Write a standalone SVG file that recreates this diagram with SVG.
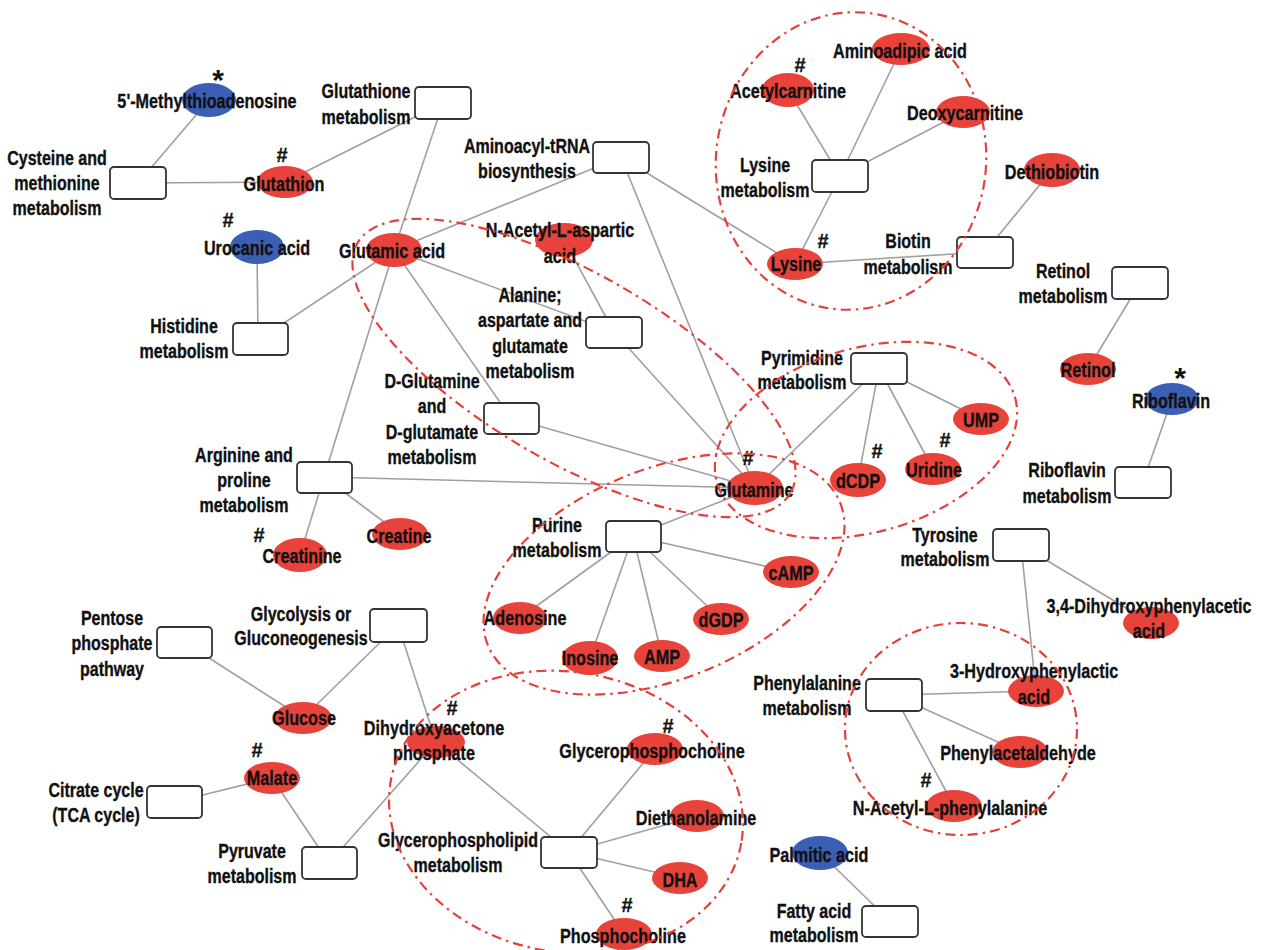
<svg xmlns="http://www.w3.org/2000/svg" width="1263" height="950" viewBox="0 0 1263 950">
<style>
.bg{fill:#fff}
.r{fill:#e8433b}
.b{fill:#3b5fb5}
.box{fill:#fff;stroke:#333;stroke-width:1.8}
.t{font-family:"Liberation Sans",Arial,sans-serif;font-weight:bold;font-size:20px;fill:#111;stroke:#111;stroke-width:0.35;text-anchor:middle}
.h{font-family:"Liberation Sans",Arial,sans-serif;font-weight:bold;font-size:20px;fill:#111;stroke:#111;stroke-width:0.3;text-anchor:middle}
.s{font-family:"Liberation Sans",Arial,sans-serif;font-weight:bold;font-size:30px;fill:#111;text-anchor:middle}
#connectors line{stroke:#a0a0a0;stroke-width:1.6}
.cl{fill:none;stroke:#e4413b;stroke-width:2.2;stroke-dasharray:10 5 2.5 5}
</style>
<rect class="bg" x="0" y="0" width="1263" height="950"/>
<g id="connectors">
<line x1="209" y1="100" x2="138" y2="183"/>
<line x1="138" y1="183" x2="285" y2="182"/>
<line x1="285" y1="182" x2="443" y2="103"/>
<line x1="443" y1="103" x2="394" y2="250"/>
<line x1="257" y1="247" x2="258" y2="339"/>
<line x1="260" y1="339" x2="394" y2="250"/>
<line x1="394" y1="250" x2="621" y2="157"/>
<line x1="394" y1="250" x2="614" y2="332"/>
<line x1="394" y1="250" x2="511" y2="418"/>
<line x1="394" y1="250" x2="324" y2="477"/>
<line x1="564" y1="240" x2="614" y2="332"/>
<line x1="621" y1="157" x2="755" y2="488"/>
<line x1="621" y1="157" x2="795" y2="264"/>
<line x1="614" y1="332" x2="755" y2="488"/>
<line x1="511" y1="418" x2="755" y2="488"/>
<line x1="324" y1="477" x2="755" y2="488"/>
<line x1="324" y1="477" x2="300" y2="555"/>
<line x1="324" y1="477" x2="400" y2="534"/>
<line x1="879" y1="368" x2="755" y2="488"/>
<line x1="633" y1="536" x2="755" y2="488"/>
<line x1="840" y1="176" x2="788" y2="90"/>
<line x1="840" y1="176" x2="901" y2="49"/>
<line x1="840" y1="176" x2="963" y2="112"/>
<line x1="840" y1="176" x2="795" y2="264"/>
<line x1="795" y1="264" x2="985" y2="252"/>
<line x1="985" y1="252" x2="1052" y2="170"/>
<line x1="1140" y1="283" x2="1088" y2="369"/>
<line x1="1172" y1="399" x2="1143" y2="482"/>
<line x1="879" y1="368" x2="858" y2="480"/>
<line x1="879" y1="368" x2="933" y2="469"/>
<line x1="879" y1="368" x2="981" y2="419"/>
<line x1="633" y1="536" x2="791" y2="572"/>
<line x1="633" y1="536" x2="721" y2="619"/>
<line x1="633" y1="536" x2="662" y2="656"/>
<line x1="633" y1="536" x2="590" y2="658"/>
<line x1="633" y1="536" x2="520" y2="618"/>
<line x1="1021" y1="545" x2="1151" y2="623"/>
<line x1="1021" y1="545" x2="1036" y2="691"/>
<line x1="894" y1="695" x2="1036" y2="691"/>
<line x1="894" y1="695" x2="1020" y2="752"/>
<line x1="894" y1="695" x2="954" y2="806"/>
<line x1="820" y1="853" x2="890" y2="921"/>
<line x1="184" y1="642" x2="303" y2="718"/>
<line x1="398" y1="625" x2="303" y2="718"/>
<line x1="398" y1="625" x2="436" y2="742"/>
<line x1="272" y1="778" x2="174" y2="802"/>
<line x1="272" y1="778" x2="329" y2="863"/>
<line x1="329" y1="863" x2="436" y2="742"/>
<line x1="436" y1="742" x2="569" y2="852"/>
<line x1="569" y1="852" x2="655" y2="749"/>
<line x1="569" y1="852" x2="697" y2="816"/>
<line x1="569" y1="852" x2="680" y2="878"/>
<line x1="569" y1="852" x2="624" y2="934"/>
</g>
<g id="n_glutathione_met"><rect class="box" x="415" y="87" width="56" height="32" rx="4"/><text class="t" transform="translate(366 98) scale(.8 1)">Glutathione<tspan x="0" dy="26">metabolism</tspan></text></g>
<g id="n_cysteine_met"><rect class="box" x="110" y="167" width="56" height="32" rx="4"/><text class="t" transform="translate(57 165) scale(.8 1)">Cysteine and<tspan x="0" dy="25">methionine</tspan><tspan x="0" dy="25">metabolism</tspan></text></g>
<g id="n_aminoacyl"><rect class="box" x="593" y="142" width="56" height="31" rx="4"/><text class="t" transform="translate(527 153) scale(.8 1)">Aminoacyl-tRNA<tspan x="0" dy="25">biosynthesis</tspan></text></g>
<g id="n_lysine_met"><rect class="box" x="812" y="160" width="56" height="32" rx="4"/><text class="t" transform="translate(765 172) scale(.8 1)">Lysine<tspan x="0" dy="25">metabolism</tspan></text></g>
<g id="n_biotin_met"><rect class="box" x="957" y="237" width="56" height="31" rx="4"/><text class="t" transform="translate(908 248) scale(.8 1)">Biotin<tspan x="0" dy="26">metabolism</tspan></text></g>
<g id="n_retinol_met"><rect class="box" x="1112" y="267" width="56" height="32" rx="4"/><text class="t" transform="translate(1063 278) scale(.8 1)">Retinol<tspan x="0" dy="25">metabolism</tspan></text></g>
<g id="n_riboflavin_met"><rect class="box" x="1115" y="467" width="56" height="31" rx="4"/><text class="t" transform="translate(1067 477) scale(.8 1)">Riboflavin<tspan x="0" dy="26">metabolism</tspan></text></g>
<g id="n_histidine_met"><rect class="box" x="233" y="323" width="55" height="32" rx="4"/><text class="t" transform="translate(184 333) scale(.8 1)">Histidine<tspan x="0" dy="25">metabolism</tspan></text></g>
<g id="n_alanine_met"><rect class="box" x="586" y="317" width="56" height="31" rx="4"/><text class="t" transform="translate(530 302) scale(.8 1)">Alanine;<tspan x="0" dy="25.3">aspartate and</tspan><tspan x="0" dy="25.3">glutamate</tspan><tspan x="0" dy="25.3">metabolism</tspan></text></g>
<g id="n_dglutamine_met"><rect class="box" x="484" y="403" width="55" height="31" rx="4"/><text class="t" transform="translate(432 388) scale(.8 1)">D-Glutamine<tspan x="0" dy="25.5">and</tspan><tspan x="0" dy="25.5">D-glutamate</tspan><tspan x="0" dy="25.5">metabolism</tspan></text></g>
<g id="n_arginine_met"><rect class="box" x="297" y="462" width="55" height="31" rx="4"/><text class="t" transform="translate(244 462) scale(.8 1)">Arginine and<tspan x="0" dy="25">proline</tspan><tspan x="0" dy="25">metabolism</tspan></text></g>
<g id="n_pyrimidine_met"><rect class="box" x="851" y="353" width="56" height="31" rx="4"/><text class="t" transform="translate(802 365) scale(.8 1)">Pyrimidine<tspan x="0" dy="24">metabolism</tspan></text></g>
<g id="n_purine_met"><rect class="box" x="606" y="521" width="55" height="31" rx="4"/><text class="t" transform="translate(557 532) scale(.8 1)">Purine<tspan x="0" dy="25">metabolism</tspan></text></g>
<g id="n_tyrosine_met"><rect class="box" x="993" y="529" width="56" height="32" rx="4"/><text class="t" transform="translate(945 542) scale(.8 1)">Tyrosine<tspan x="0" dy="24">metabolism</tspan></text></g>
<g id="n_phenylalanine_met"><rect class="box" x="866" y="679" width="56" height="32" rx="4"/><text class="t" transform="translate(807 690) scale(.8 1)">Phenylalanine<tspan x="0" dy="25">metabolism</tspan></text></g>
<g id="n_fatty_met"><rect class="box" x="862" y="906" width="56" height="31" rx="4"/><text class="t" transform="translate(814 918) scale(.8 1)">Fatty acid<tspan x="0" dy="24">metabolism</tspan></text></g>
<g id="n_pentose"><rect class="box" x="157" y="627" width="55" height="31" rx="4"/><text class="t" transform="translate(112 625) scale(.8 1)">Pentose<tspan x="0" dy="25.5">phosphate</tspan><tspan x="0" dy="25.5">pathway</tspan></text></g>
<g id="n_glycolysis"><rect class="box" x="370" y="609" width="57" height="33" rx="4"/><text class="t" transform="translate(301 621) scale(.8 1)">Glycolysis or<tspan x="0" dy="24">Gluconeogenesis</tspan></text></g>
<g id="n_citrate"><rect class="box" x="147" y="786" width="55" height="32" rx="4"/><text class="t" transform="translate(96 797) scale(.8 1)">Citrate cycle<tspan x="0" dy="25">(TCA cycle)</tspan></text></g>
<g id="n_pyruvate_met"><rect class="box" x="302" y="847" width="55" height="32" rx="4"/><text class="t" transform="translate(252 858) scale(.8 1)">Pyruvate<tspan x="0" dy="25">metabolism</tspan></text></g>
<g id="n_glycerophospholipid_met"><rect class="box" x="541" y="837" width="56" height="31" rx="4"/><text class="t" transform="translate(458 847) scale(.8 1)">Glycerophospholipid<tspan x="0" dy="25">metabolism</tspan></text></g>
<g id="n_mta"><ellipse class="b" cx="209" cy="100" rx="27" ry="17"/><text class="t" transform="translate(207 108) scale(.81 1)">5'-Methylthioadenosine</text><text class="s" x="218" y="90">*</text></g>
<g id="n_glutathion"><ellipse class="r" cx="285" cy="182" rx="28" ry="16"/><text class="t" transform="translate(284 191) scale(.81 1)">Glutathion</text><text class="h" x="282" y="162">#</text></g>
<g id="n_urocanic"><ellipse class="b" cx="257" cy="247" rx="27" ry="17"/><text class="t" transform="translate(257 255) scale(.81 1)">Urocanic acid</text><text class="h" x="228" y="227">#</text></g>
<g id="n_glutamic"><ellipse class="r" cx="394" cy="250" rx="28" ry="17"/><text class="t" transform="translate(392 258) scale(.81 1)">Glutamic acid</text></g>
<g id="n_naa"><ellipse class="r" cx="564" cy="240" rx="29" ry="17"/><text class="t" transform="translate(560 237) scale(.81 1)">N-Acetyl-L-aspartic<tspan x="0" dy="26">acid</tspan></text></g>
<g id="n_acetylcarnitine"><ellipse class="r" cx="788" cy="90" rx="26" ry="17"/><text class="t" transform="translate(788 98) scale(.81 1)">Acetylcarnitine</text><text class="h" x="800" y="72">#</text></g>
<g id="n_aminoadipic"><ellipse class="r" cx="901" cy="49" rx="29" ry="16"/><text class="t" transform="translate(900 58) scale(.81 1)">Aminoadipic acid</text></g>
<g id="n_deoxycarnitine"><ellipse class="r" cx="963" cy="112" rx="27" ry="16"/><text class="t" transform="translate(965 120) scale(.81 1)">Deoxycarnitine</text></g>
<g id="n_lysine"><ellipse class="r" cx="795" cy="264" rx="28" ry="16"/><text class="t" transform="translate(796 271) scale(.81 1)">Lysine</text><text class="h" x="823" y="248">#</text></g>
<g id="n_dethiobiotin"><ellipse class="r" cx="1052" cy="170" rx="28" ry="17"/><text class="t" transform="translate(1052 179) scale(.81 1)">Dethiobiotin</text></g>
<g id="n_retinol"><ellipse class="r" cx="1088" cy="369" rx="28" ry="16"/><text class="t" transform="translate(1088 377) scale(.81 1)">Retinol</text></g>
<g id="n_riboflavin"><ellipse class="b" cx="1172" cy="399" rx="27" ry="16"/><text class="t" transform="translate(1171 408) scale(.81 1)">Riboflavin</text><text class="s" x="1180" y="388">*</text></g>
<g id="n_ump"><ellipse class="r" cx="981" cy="419" rx="28" ry="16"/><text class="t" transform="translate(981 427) scale(.81 1)">UMP</text></g>
<g id="n_uridine"><ellipse class="r" cx="933" cy="469" rx="28" ry="16"/><text class="t" transform="translate(934 477) scale(.81 1)">Uridine</text><text class="h" x="945" y="447">#</text></g>
<g id="n_dcdp"><ellipse class="r" cx="858" cy="480" rx="28" ry="17"/><text class="t" transform="translate(858 488) scale(.81 1)">dCDP</text><text class="h" x="877" y="458">#</text></g>
<g id="n_glutamine"><ellipse class="r" cx="755" cy="488" rx="28" ry="17"/><text class="t" transform="translate(754 497) scale(.81 1)">Glutamine</text><text class="h" x="748" y="465">#</text></g>
<g id="n_creatinine"><ellipse class="r" cx="300" cy="555" rx="27" ry="17"/><text class="t" transform="translate(302 563) scale(.81 1)">Creatinine</text><text class="h" x="259" y="542">#</text></g>
<g id="n_creatine"><ellipse class="r" cx="400" cy="534" rx="28" ry="16"/><text class="t" transform="translate(399 543) scale(.81 1)">Creatine</text></g>
<g id="n_camp"><ellipse class="r" cx="791" cy="572" rx="28" ry="16"/><text class="t" transform="translate(791 580) scale(.81 1)">cAMP</text></g>
<g id="n_dgdp"><ellipse class="r" cx="721" cy="619" rx="28" ry="16"/><text class="t" transform="translate(721 627) scale(.81 1)">dGDP</text></g>
<g id="n_amp"><ellipse class="r" cx="662" cy="656" rx="28" ry="16"/><text class="t" transform="translate(662 664) scale(.81 1)">AMP</text></g>
<g id="n_inosine"><ellipse class="r" cx="590" cy="658" rx="28" ry="17"/><text class="t" transform="translate(590 665) scale(.81 1)">Inosine</text></g>
<g id="n_adenosine"><ellipse class="r" cx="520" cy="618" rx="27" ry="16"/><text class="t" transform="translate(525 625) scale(.81 1)">Adenosine</text></g>
<g id="n_glucose"><ellipse class="r" cx="303" cy="718" rx="29" ry="16"/><text class="t" transform="translate(304 725) scale(.81 1)">Glucose</text></g>
<g id="n_malate"><ellipse class="r" cx="272" cy="778" rx="28" ry="16"/><text class="t" transform="translate(272 785) scale(.81 1)">Malate</text><text class="h" x="257" y="757">#</text></g>
<g id="n_dhap"><ellipse class="r" cx="436" cy="742" rx="29" ry="16"/><text class="t" transform="translate(434 735) scale(.81 1)">Dihydroxyacetone<tspan x="0" dy="25">phosphate</tspan></text><text class="h" x="452" y="715">#</text></g>
<g id="n_gpc"><ellipse class="r" cx="655" cy="749" rx="28" ry="16"/><text class="t" transform="translate(652 758) scale(.81 1)">Glycerophosphocholine</text><text class="h" x="668" y="733">#</text></g>
<g id="n_diethanolamine"><ellipse class="r" cx="697" cy="816" rx="27" ry="16"/><text class="t" transform="translate(696 825) scale(.81 1)">Diethanolamine</text></g>
<g id="n_dha"><ellipse class="r" cx="680" cy="878" rx="28" ry="16"/><text class="t" transform="translate(680 887) scale(.81 1)">DHA</text></g>
<g id="n_phosphocholine"><ellipse class="r" cx="624" cy="934" rx="28" ry="16"/><text class="t" transform="translate(623 943) scale(.81 1)">Phosphocholine</text><text class="h" x="627" y="912">#</text></g>
<g id="n_dhpaa"><ellipse class="r" cx="1151" cy="623" rx="28" ry="16"/><text class="t" transform="translate(1149 613) scale(.81 1)">3,4-Dihydroxyphenylacetic<tspan x="0" dy="25">acid</tspan></text></g>
<g id="n_hpla"><ellipse class="r" cx="1036" cy="691" rx="28" ry="16"/><text class="t" transform="translate(1034 678) scale(.81 1)">3-Hydroxyphenylactic<tspan x="0" dy="26">acid</tspan></text></g>
<g id="n_phenylacetaldehyde"><ellipse class="r" cx="1020" cy="752" rx="28" ry="16"/><text class="t" transform="translate(1018 760) scale(.81 1)">Phenylacetaldehyde</text></g>
<g id="n_nalphe"><ellipse class="r" cx="954" cy="806" rx="28" ry="16"/><text class="t" transform="translate(950 815) scale(.81 1)">N-Acetyl-L-phenylalanine</text><text class="h" x="926" y="787">#</text></g>
<g id="n_palmitic"><ellipse class="b" cx="820" cy="853" rx="28" ry="17"/><text class="t" transform="translate(819 862) scale(.81 1)">Palmitic acid</text></g>
<g id="clusters">
<ellipse class="cl" cx="0" cy="0" rx="135" ry="149" transform="translate(851 161) rotate(8)"/>
<ellipse class="cl" cx="0" cy="0" rx="250" ry="94" transform="translate(574 368) rotate(30)"/>
<ellipse class="cl" cx="0" cy="0" rx="155" ry="92" transform="translate(866 440) rotate(-16)"/>
<ellipse class="cl" cx="0" cy="0" rx="190" ry="105" transform="translate(664 574) rotate(-22)"/>
<ellipse class="cl" cx="0" cy="0" rx="178" ry="140" transform="translate(566 812) rotate(10)"/>
<ellipse class="cl" cx="0" cy="0" rx="116" ry="106" transform="translate(961 729)"/>
</g>
</svg>
